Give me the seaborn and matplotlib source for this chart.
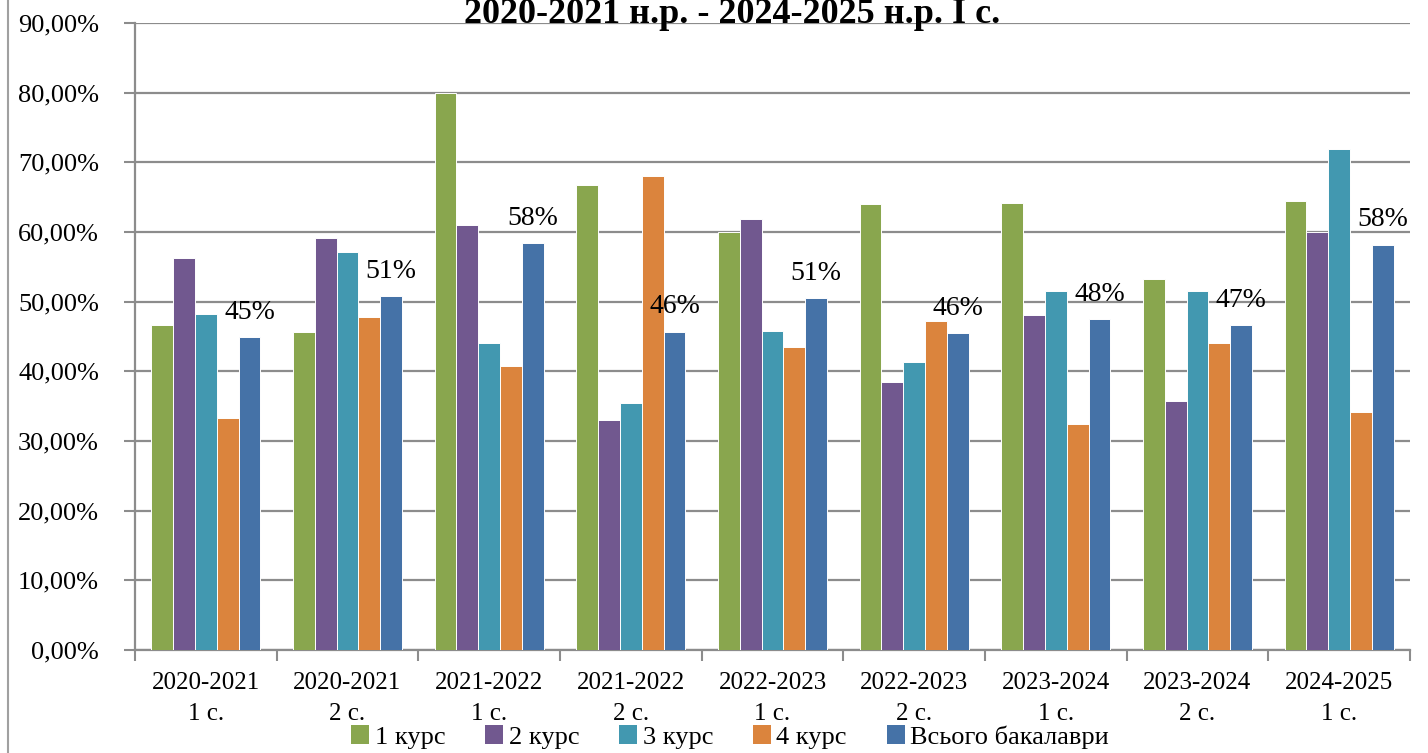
import numpy as np
import pandas as pd
import matplotlib
matplotlib.use("Agg")
import matplotlib.pyplot as plt
from matplotlib.lines import Line2D
from matplotlib.patches import Patch
import seaborn as sns

# дані, зчитані з діаграми (%)
periods = ["2020-2021\n1 с.", "2020-2021\n2 с.", "2021-2022\n1 с.", "2021-2022\n2 с.",
           "2022-2023\n1 с.", "2022-2023\n2 с.", "2023-2024\n1 с.", "2023-2024\n2 с.",
           "2024-2025\n1 с."]
series = ["1 курс", "2 курс", "3 курс", "4 курс", "Всього бакалаври"]

kurs1 = [46.6, 45.6, 80.0, 66.7, 60.0, 64.0, 64.2, 53.2, 64.5]
kurs2 = [56.3, 59.2, 61.0, 33.0, 61.9, 38.5, 48.1, 35.8, 60.0]
kurs3 = [48.3, 57.1, 44.1, 35.4, 45.8, 41.4, 51.5, 51.5, 71.9]
kurs4 = [33.3, 47.8, 40.8, 68.1, 43.5, 47.2, 32.5, 44.1, 34.2]
total = [44.9, 50.8, 58.4, 45.7, 50.5, 45.5, 47.5, 46.6, 58.2]
total_labels = ["45%", "51%", "58%", "46%", "51%", "46%", "48%", "47%", "58%"]

colors = ["#89a64e", "#71588f", "#4298b0", "#db843d", "#4572a7"]

df = pd.DataFrame({"period": periods * 5,
                   "series": np.repeat(series, len(periods)),
                   "value": kurs1 + kurs2 + kurs3 + kurs4 + total})

plt.rcParams['font.family'] = ['Liberation Serif', 'DejaVu Serif']

fig = plt.figure(figsize=(14.28, 7.53), dpi=100)
ax = fig.add_axes([135 / 1428, 1 - 650 / 753, 1275 / 1428, 627 / 753])

sns.barplot(data=df, x="period", y="value", hue="series", palette=colors,
            width=0.77, edgecolor="white", linewidth=0.7, saturation=1,
            ax=ax, zorder=3)
ax.get_legend().remove()

grid_c = "#8c8c8c"
ax.set_ylim(0, 90)
ax.set_xlim(-0.5, len(periods) - 0.5)
ax.set_yticks(np.arange(0, 91, 10))
ax.set_yticklabels([f"{v:.2f}%".replace(".", ",") for v in np.arange(0, 91, 10)], fontsize=19)
ax.yaxis.grid(True, color=grid_c, linewidth=1.6, zorder=0)
ax.set_axisbelow(True)

# підписи категорій по центрах, риски на межах груп
ax.set_xticks(np.arange(-0.5, len(periods)), minor=False)
ax.set_xticklabels([""] * (len(periods) + 1))
ax.set_xticks(np.arange(len(periods)), minor=True)
ax.set_xticklabels(periods, minor=True, fontsize=18, linespacing=1.5)
ax.tick_params(axis="x", which="major", length=8, width=1.5, color=grid_c)
ax.tick_params(axis="x", which="minor", length=0, pad=16)
ax.tick_params(axis="y", length=8, width=1.5, color=grid_c, pad=18)
ax.set_xlabel("")
ax.set_ylabel("")

for s in ["top", "right"]:
    ax.spines[s].set_visible(False)
for s in ["left", "bottom"]:
    ax.spines[s].set_color(grid_c)
    ax.spines[s].set_linewidth(1.6)

# підписи для "Всього бакалаври"
offset = 2 * 0.77 / 5
for i, (v, lab) in enumerate(zip(total, total_labels)):
    ax.annotate(lab, (i + offset, v), xytext=(0, 18), textcoords="offset points",
                ha="center", va="center", fontsize=20, zorder=5)

fig.text(732 / 1428, 1 - 23 / 753, "2020-2021 н.р. - 2024-2025 н.р. І с.",
         ha="center", va="baseline", fontsize=26, fontweight="bold")

handles = [Patch(facecolor=c, edgecolor="none") for c in colors]
fig.legend(handles, series, loc="center", bbox_to_anchor=(730 / 1428, 1 - 737 / 753),
           ncol=5, frameon=False, fontsize=19, handlelength=0.7, handleheight=0.7,
           handletextpad=0.2, columnspacing=1.5)

fig.add_artist(Line2D([8 / 1428, 8 / 1428], [0, 1], color="#a0a0a0", linewidth=1.5))

fig.savefig("out.png", dpi=100)
